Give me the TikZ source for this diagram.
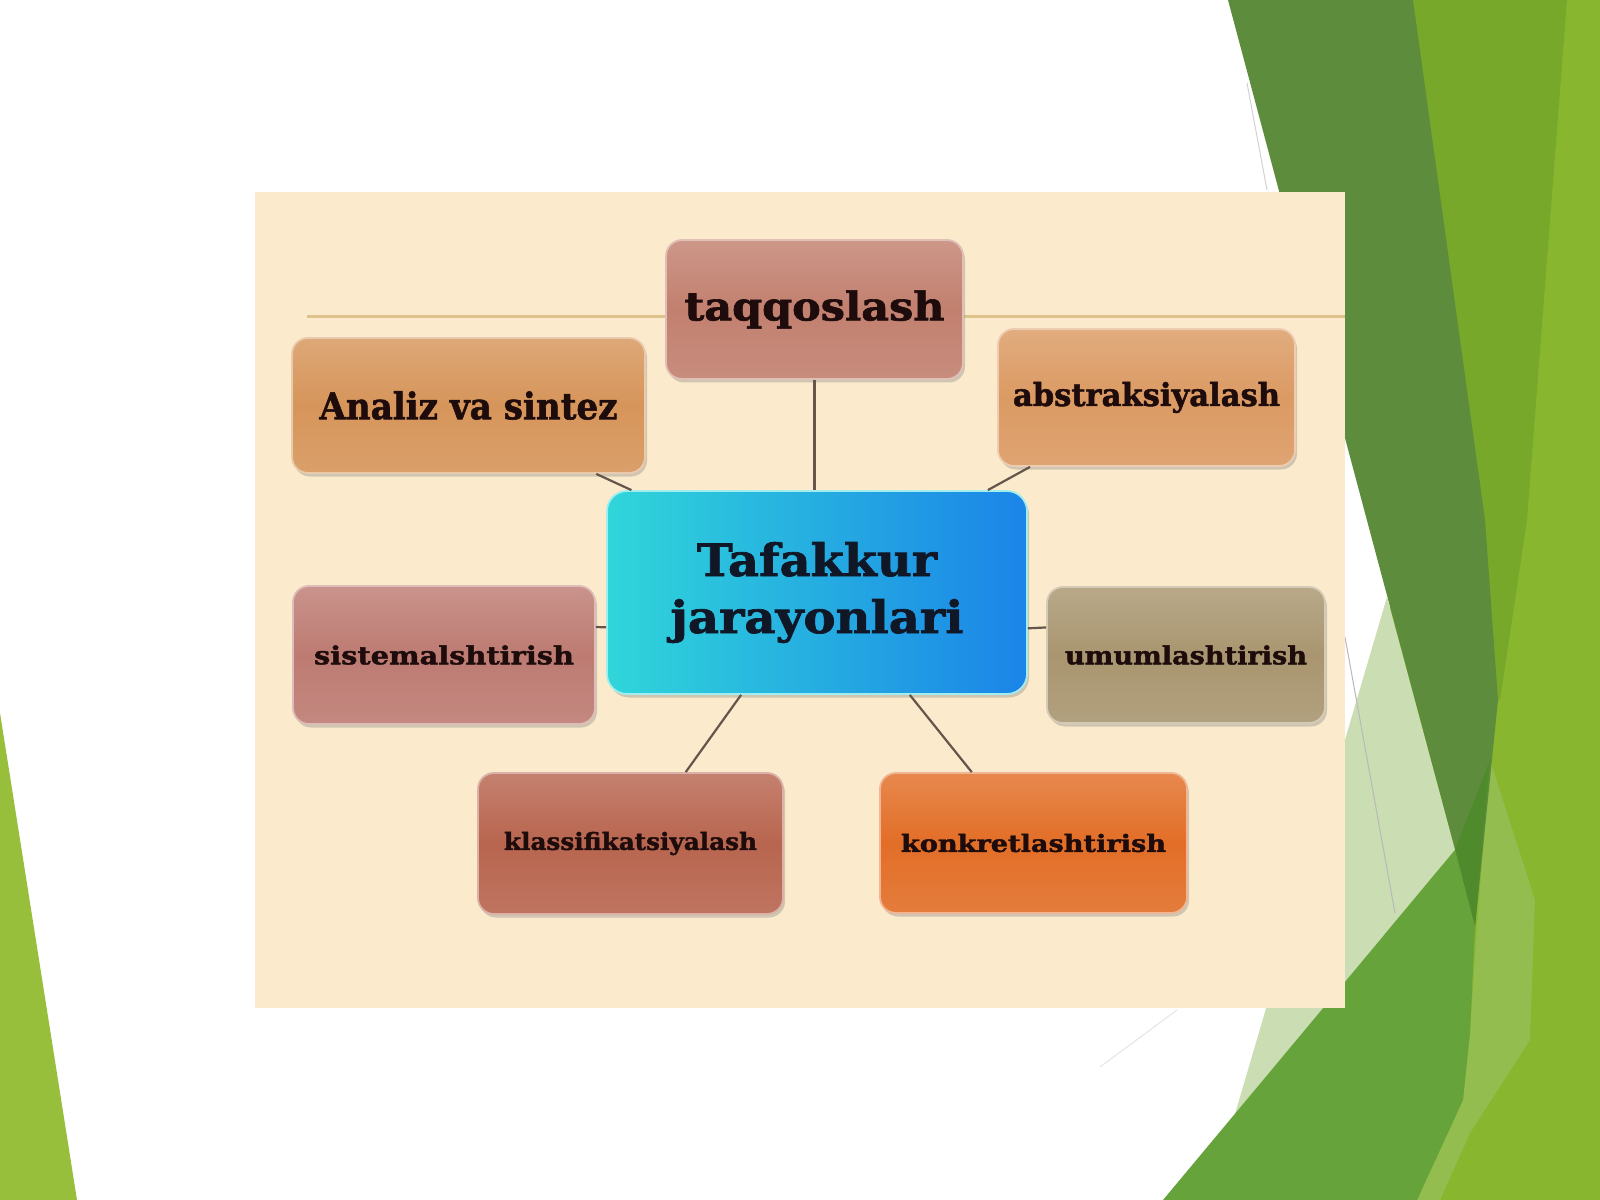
\documentclass[tikz,border=0pt]{standalone}
\usepackage{fontspec}
\setmainfont{DejaVu Serif}[BoldFeatures={FakeBold=1.6}]
\usetikzlibrary{calc,shadows}
\newlength\pxu \setlength\pxu{0.1mm}
\newcommand\wt[3]{\resizebox{#1\pxu}{#2\pxu}{\bfseries #3}}
\definecolor{cream}{HTML}{FBEBCC}
\definecolor{rule}{HTML}{DEC38C}
\definecolor{taqc}{HTML}{C2806F}
\definecolor{anac}{HTML}{D6955A}
\definecolor{absc}{HTML}{DB9A63}
\definecolor{sisc}{HTML}{BD7B72}
\definecolor{umuc}{HTML}{A99670}
\definecolor{klac}{HTML}{B8654F}
\definecolor{konc}{HTML}{E26E27}
\definecolor{cenL}{HTML}{30D6DA}
\definecolor{cenR}{HTML}{1B84E8}
\definecolor{txtc}{HTML}{1E0C0C}
\definecolor{cntxt}{HTML}{101828}
\definecolor{linkc}{HTML}{65554A}
\definecolor{gLeft}{HTML}{97BF3B}
\definecolor{gBase}{HTML}{88B62F}
\definecolor{gMid}{HTML}{78A82A}
\definecolor{gBand}{HTML}{93BE4F}
\definecolor{gDark}{HTML}{5E8C3D}
\definecolor{gDeep}{HTML}{4F8A2C}
\definecolor{gPale}{HTML}{CBDDB3}
\definecolor{gMed}{HTML}{67A33B}
\begin{document}
\begin{tikzpicture}[x=0.1mm,y=-0.1mm,
  pbox/.style={rounded corners=1.6mm, draw=#1!50!white, line width=0.18mm,
    top color=#1!82!white, bottom color=#1!90!white, middle color=#1,
    drop shadow={shadow xshift=0.2mm,shadow yshift=-0.35mm,opacity=0.35},
    inner sep=0pt, text=txtc},
  cbox/.style={rounded corners=2mm, draw=cenL!45!white, line width=0.18mm,
    left color=cenL, right color=cenR,
    drop shadow={shadow xshift=0.2mm,shadow yshift=-0.35mm,opacity=0.35},
    inner sep=0pt, text=cntxt, align=center,
    font=\fontsize{10pt}{5.7mm}\selectfont},
  link/.style={draw=linkc, line width=0.22mm}]
\useasboundingbox (0,0) rectangle (1600,1200);
% background
\fill[white] (0,0) rectangle (1600,1200);
\fill[gLeft] (0,713) -- (77,1200) -- (0,1200) -- cycle;
\fill[gBase] (1400,0) -- (1600,0) -- (1600,1200) -- (1380,1200) -- cycle;
\fill[gMid] (1400,0) -- (1567,0) -- (1527,520) -- (1500,700) -- (1480,700) -- cycle;
\fill[gBand] (1490,760) -- (1535,900) -- (1530,1040) -- (1470,1133) -- (1440,1200) -- (1417,1200) -- (1463,1100) -- (1470,1033) -- (1477,927) -- cycle;
\fill[gDark] (1228,0) -- (1413,0) -- (1485,520) -- (1498,700) -- (1475,927) -- (1455,850) -- cycle;
\fill[gDeep] (1455,850) -- (1490,760) -- (1475,927) -- cycle;
\fill[gPale] (1387,597) -- (1455,850) -- (1235,1114) -- cycle;
\fill[gMed] (1455,850) -- (1475,927) -- (1470,1033) -- (1463,1100) -- (1417,1200) -- (1163,1200) -- cycle;
\draw[gray!35, line width=0.1mm] (1247,83) -- (1267,190);
\draw[gray!55, line width=0.1mm] (1345,637) -- (1395,913);
\draw[gray!20, line width=0.1mm] (1100,1067) -- (1177,1010);
% panel
\fill[cream] (255,192) rectangle (1345,1008);
\draw[rule, line width=0.3mm] (307,317) -- (1345,317);
% nodes
\node[pbox=taqc, minimum width=297\pxu, minimum height=139\pxu] (taq) at (814.5,309.5) {\wt{260}{30}{taqqoslash}};
\node[pbox=anac, minimum width=353\pxu, minimum height=135\pxu] (ana) at (468.5,405.5) {\wt{298}{28}{Analiz va sintez}};
\node[pbox=absc, minimum width=297\pxu, minimum height=137\pxu] (abs) at (1146.5,397.5) {\wt{267}{24}{abstraksiyalash}};
\node[cbox, minimum width=420\pxu, minimum height=203\pxu] (cen) at (817,592.5) {\wt{240}{34}{Tafakkur}\\\wt{293}{34}{jarayonlari}};
\node[pbox=sisc, minimum width=302\pxu, minimum height=138\pxu] (sis) at (444,655) {\wt{260}{19}{sistemalshtirish}};
\node[pbox=umuc, minimum width=278\pxu, minimum height=136\pxu] (umu) at (1186,655) {\wt{242}{19}{umumlashtirish}};
\node[pbox=klac, minimum width=305\pxu, minimum height=141\pxu] (kla) at (630.5,843.5) {\wt{253}{18}{klassifikatsiyalash}};
\node[pbox=konc, minimum width=307\pxu, minimum height=140\pxu] (kon) at (1033.5,843) {\wt{265}{18}{konkretlashtirish}};
% connectors
\draw[link] (taq.south) -- (taq.south |- cen.north);
\draw[link] ($(ana.south west)!0.86!(ana.south east)$) -- ($(cen.north west)!0.06!(cen.north east)$);
\draw[link] ($(abs.south west)!0.11!(abs.south east)$) -- ($(cen.north west)!0.905!(cen.north east)$);
\draw[link] ($(cen.north east)!0.675!(cen.south east)$) -- ($(umu.north west)!0.30!(umu.south west)$);
\draw[link] ($(cen.north west)!0.67!(cen.south west)$) -- ($(sis.north east)!0.30!(sis.south east)$);
\draw[link] ($(cen.south west)!0.32!(cen.south east)$) -- ($(kla.north west)!0.68!(kla.north east)$);
\draw[link] ($(cen.south west)!0.72!(cen.south east)$) -- ($(kon.north west)!0.30!(kon.north east)$);
\end{tikzpicture}
\end{document}
